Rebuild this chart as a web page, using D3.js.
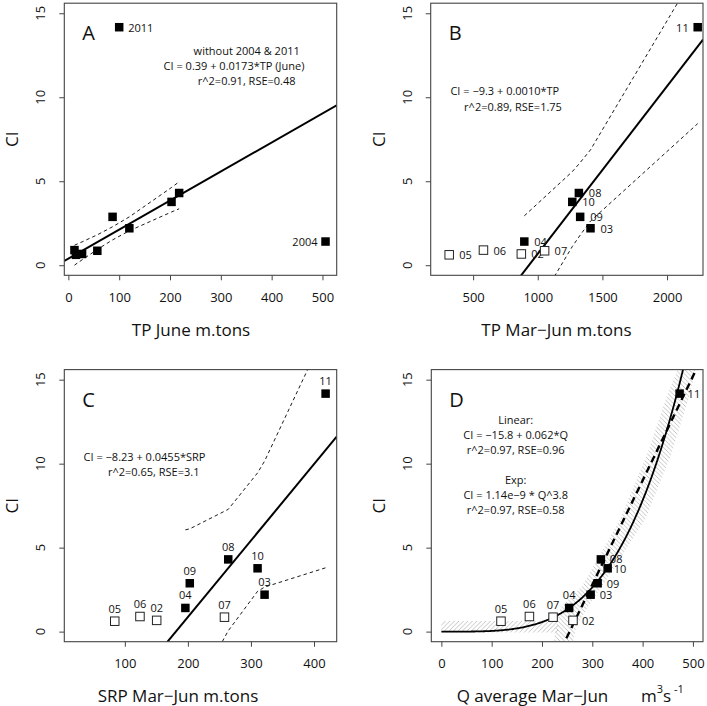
<!DOCTYPE html>
<html><head><meta charset="utf-8">
<script src="https://cdn.jsdelivr.net/npm/d3@7"></script>
<style>
body{margin:0;background:#fff}
svg{display:block}
text{font-family:"Open Sans",sans-serif;fill:#111}
</style>
</head><body>
<svg id="c" width="707" height="706"></svg>
<script>
// ---------------- data ----------------
const years = ["02","03","04","05","06","07","08","09","10","11"];
const ciValues = [0.67, 2.2, 1.41, 0.62, 0.9, 0.86, 4.3, 2.88, 3.77, 14.17];
const filled = [0,1,1,0,0,0,1,1,1,1];
const tpJune = [27, 120, 506, 15, 12, 57, 218, 87, 203, 100];
const tpMarJun = [873, 1408, 896, 315, 580, 1053, 1318, 1328, 1267, 2237];
const srpMarJun = [150.5, 321.6, 196, 84, 124, 258, 264, 203, 310.5, 418.4];
const qMarJun = [261.6, 296.7, 254, 118.5, 175, 222, 317, 310.6, 330.5, 473.5];

const yTicks = [0,5,10,15];
const xTicksA = [0,100,200,300,400,500];
const xTicksB = [500,1000,1500,2000];
const xTicksC = [100,200,300,400];
const xTicksD = [0,100,200,300,400,500];

// fitted models (intercept, slope) / (a, b)
const fitA = [0.39, 0.0173];
const fitB = [-9.3, 0.00998];
const fitC = [-8.23, 0.0455];
const fitDlin = [-15.8, 0.062];
const fitDexp = [1.14e-9, 3.78];

// confidence bands (dashed)
const bandAx = [12,15,27,57,87,120,203,218];
const bandAup = [1.19,1.23,1.39,1.81,2.29,2.88,4.63,4.97];
const bandAlo = [0.00,0.07,0.32,0.94,1.51,2.05,3.17,3.36];
const bandBx = [896,1267,1318,1328,1408,2237];
const bandBup = [2.94,5.57,6.02,6.11,6.87,17.63];
const bandBlo = [-3.66,1.11,1.68,1.79,2.63,8.43];
const bandCx = [196,203,264,310.5,321.6,418.4];
const bandCup = [6.06,6.12,7.28,9.45,10.15,17.87];
const bandClo = [-4.68,-4.12,0.05,2.4,2.65,3.8];

// hatched band in D (polygon outline, data units)
const hatchFlatQ = [0, 0, 232, 232];
const hatchFlatY = [-0.05, 0.63, 0.63, -0.05];
const hatchRiseQ = [226, 236, 280, 355, 410, 450, 470, 505, 494, 458, 405, 320, 290, 268, 262, 224];
const hatchRiseY = [-0.05, 1.41, 2.71, 6.68, 10.64, 14.17, 15.6, 15.6, 14.17, 10.64, 6.68, 2.71, 1.41, 0.3, -0.6, -0.6];

// ---------------- drawing ----------------
const svg = d3.select("#c");
const defs = svg.append("defs");
function hatch(id, dir){
  const p = defs.append("pattern").attr("id", id).attr("patternUnits","userSpaceOnUse")
    .attr("width",4.5).attr("height",4.5);
  const d = dir > 0 ? "M-1,1 L1,-1 M0,4.5 L4.5,0 M3.5,5.5 L5.5,3.5" : "M-1,3.5 L1,5.5 M0,0 L4.5,4.5 M3.5,-1 L5.5,1";
  p.append("path").attr("d", d).attr("stroke","#b4b4b4").attr("stroke-width",0.8);
}
hatch("hA", 1);
hatch("hB", -1);

const boxes = {
  A:{l:64.3, r:336.7, t:3.2, b:275.3},
  B:{l:430.7, r:703, t:3.2, b:275.3},
  C:{l:64.3, r:336.7, t:369.6, b:641.7},
  D:{l:431.3, r:703, t:369.6, b:641.7}
};

function makePanel(key, xdom, xticks, xtitle, titleX){
  const bx = boxes[key];
  const x = d3.scaleLinear().domain(xdom).range([bx.l, bx.r]);
  const y = d3.scaleLinear().domain([-0.6, 15.6]).range([bx.b, bx.t]);
  const g = svg.append("g");
  defs.append("clipPath").attr("id","clip"+key).append("rect")
    .attr("x",bx.l).attr("y",bx.t).attr("width",bx.r-bx.l).attr("height",bx.b-bx.t);
  const inner = g.append("g").attr("clip-path","url(#clip"+key+")");
  // x axis
  const xa = g.append("g").attr("transform",`translate(0,${bx.b})`)
    .call(d3.axisBottom(x).tickValues(xticks).tickSize(5).tickPadding(12).tickFormat(d3.format("d")));
  xa.select(".domain").remove();
  xa.selectAll("line").attr("stroke","#444");
  xa.selectAll("text").attr("font-size",13).style("font-family","'Open Sans',sans-serif").attr("fill","#222");
  // y axis
  const ya = g.append("g").attr("transform",`translate(${bx.l},0)`)
    .call(d3.axisLeft(y).tickValues(yTicks).tickSize(5).tickFormat(""));
  ya.select(".domain").remove();
  ya.selectAll("line").attr("stroke","#444");
  g.selectAll(".ylab").data(yTicks).enter().append("text")
    .attr("transform", d => `translate(${bx.l-24},${y(d)}) rotate(-90)`)
    .attr("text-anchor","middle").attr("dominant-baseline","central")
    .attr("font-size",13).attr("fill","#222").text(d => d);
  // box
  g.append("rect").attr("x",bx.l).attr("y",bx.t).attr("width",bx.r-bx.l).attr("height",bx.b-bx.t)
    .attr("fill","none").attr("stroke","#444").attr("stroke-width",1.1);
  // titles
  g.append("text").attr("transform",`translate(${bx.l-52.5},${(bx.t+bx.b)/2}) rotate(-90)`)
    .attr("text-anchor","middle").attr("dominant-baseline","central").attr("font-size",17).text("CI");
  if (xtitle) {
    g.append("text").attr("x",titleX).attr("y",bx.b+54).attr("text-anchor","middle")
      .attr("dominant-baseline","central").attr("font-size",17).text(xtitle);
  }
  // panel letter
  g.append("text").attr("x",bx.l+18).attr("y",bx.t+37).attr("font-size",20).text(key);
  return {x, y, g, inner, bx};
}

function ablineSolid(P, fit, dash, width){
  const [x0,x1] = P.x.domain();
  P.inner.append("line").attr("x1",P.x(x0)).attr("x2",P.x(x1))
    .attr("y1",P.y(fit[0]+fit[1]*x0)).attr("y2",P.y(fit[0]+fit[1]*x1))
    .attr("stroke","#000").attr("stroke-width",width||2)
    .attr("stroke-dasharray",dash||null);
}
function bandLines(P, xs, up, lo){
  const ln = d3.line().x(d => P.x(d[0])).y(d => P.y(d[1]));
  [up, lo].forEach(arr => {
    P.inner.append("path").attr("d", ln(xs.map((v,i)=>[v, arr[i]])))
      .attr("fill","none").attr("stroke","#000").attr("stroke-width",0.9)
      .attr("stroke-dasharray","3.5,3");
  });
}
function points(P, xs, allFilled){
  const s = 8.5;
  P.g.selectAll(null).data(xs.map((v,i)=>({x:v, y:ciValues[i], f: allFilled || filled[i]})))
    .enter().append("rect")
    .attr("x", d => P.x(d.x)-s/2).attr("y", d => P.y(d.y)-s/2)
    .attr("width", s).attr("height", s)
    .attr("fill", d => d.f ? "#000" : "#fff")
    .attr("stroke", d => d.f ? "#000" : "#222").attr("stroke-width", d => d.f ? 0 : 1);
}
function label(P, xv, yv, txt, dx, dy, anchor){
  P.g.append("text").attr("x", P.x(xv)+dx).attr("y", P.y(yv)+dy)
    .attr("text-anchor", anchor).attr("dominant-baseline","central")
    .attr("font-size",11).text(txt);
}
function note(P, cx, cy, txt){
  P.g.append("text").attr("x", cx).attr("y", cy).attr("text-anchor","middle")
    .attr("dominant-baseline","central").attr("font-size",11).text(txt);
}

// ---- Panel A ----
const PA = makePanel("A", [-8, 528], xTicksA, "TP June m.tons", 191);
bandLines(PA, bandAx, bandAup, bandAlo);
ablineSolid(PA, fitA);
points(PA, tpJune, true);
label(PA, tpJune[9], ciValues[9], "2011", 9, 0, "start");
label(PA, tpJune[2], ciValues[2], "2004", -8, 0, "end");
note(PA, 246.7, 50, "without 2004 & 2011");
note(PA, 234, 65, "CI = 0.39 + 0.0173*TP (June)");
note(PA, 246.7, 80, "r^2=0.91, RSE=0.48");

// ---- Panel B ----
const PB = makePanel("B", [172, 2278], xTicksB, "TP Mar\u2212Jun m.tons", 556.5);
bandLines(PB, bandBx, bandBup, bandBlo);
ablineSolid(PB, fitB);
years.forEach((yr,i) => {
  if (yr === "11") label(PB, tpMarJun[i], ciValues[i], yr, -9, 0, "end");
  else label(PB, tpMarJun[i], ciValues[i], yr, 10, 0, "start");
});
points(PB, tpMarJun, false);
note(PB, 504.8, 90.5, "CI = \u22129.3 + 0.0010*TP");
note(PB, 513, 106, "r^2=0.89, RSE=1.75");

// ---- Panel C ----
const PC = makePanel("C", [4, 436], xTicksC, "SRP Mar\u2212Jun m.tons", 178);
bandLines(PC, bandCx, bandCup, bandClo);
ablineSolid(PC, fitC);
years.forEach((yr,i) => label(PC, srpMarJun[i], ciValues[i], yr, 0, -13, "middle"));
points(PC, srpMarJun, false);
note(PC, 144.5, 456.3, "CI = \u22128.23 + 0.0455*SRP");
note(PC, 153.7, 471.3, "r^2=0.65, RSE=3.1");

// ---- Panel D ----
const PD = makePanel("D", [-20, 520], xTicksD, null);
const polyLine = d3.line().x(d => PD.x(d[0])).y(d => PD.y(d[1]));
PD.inner.append("path").attr("d", polyLine(hatchFlatQ.map((q,i)=>[q, hatchFlatY[i]]))+"Z")
  .attr("fill","url(#hA)").attr("stroke","none");
PD.inner.append("path").attr("d", polyLine(hatchRiseQ.map((q,i)=>[q, hatchRiseY[i]]))+"Z")
  .attr("fill","url(#hB)").attr("stroke","none");
ablineSolid(PD, fitDlin, "7,4.5", 2.4);
const qGrid = d3.range(0, 521, 2);
PD.inner.append("path")
  .attr("d", d3.line().x(q => PD.x(q)).y(q => PD.y(fitDexp[0]*Math.pow(q, fitDexp[1])))(qGrid))
  .attr("fill","none").attr("stroke","#000").attr("stroke-width",1.8);
const dLab = {"05":[0,-13,"middle"],"06":[0,-13,"middle"],"07":[0,-13,"middle"],"04":[0,-13,"middle"],
  "02":[9,0,"start"],"03":[9,0,"start"],"09":[9,0,"start"],"10":[6,0,"start"],"08":[9,-1,"start"],"11":[8,0,"start"]};
years.forEach((yr,i) => { const o = dLab[yr]; label(PD, qMarJun[i], ciValues[i], yr, o[0], o[1], o[2]); });
points(PD, qMarJun, false);
note(PD, 515.7, 419.7, "Linear:");
note(PD, 515.7, 434.7, "CI = \u221215.8 + 0.062*Q");
note(PD, 515.7, 449.7, "r^2=0.97, RSE=0.96");
note(PD, 515.7, 479.7, "Exp:");
note(PD, 515.7, 494.7, "CI = 1.14e\u22129 * Q^3.8");
note(PD, 515.7, 509.7, "r^2=0.97, RSE=0.58");
// x title for D with superscripts
svg.append("text").attr("x", 532.5).attr("y", 695).attr("text-anchor","middle")
  .attr("dominant-baseline","central").attr("font-size",17).text("Q average Mar\u2212Jun");
const unit = svg.append("text").attr("x", 641).attr("y", 695).attr("dominant-baseline","central").attr("font-size",17);
unit.append("tspan").text("m");
unit.append("tspan").attr("font-size",11).attr("dy",-7).text("3");
unit.append("tspan").attr("dy",7).text("s");
unit.append("tspan").attr("font-size",11).attr("dy",-7).text(" -1");
</script>
</body></html>
